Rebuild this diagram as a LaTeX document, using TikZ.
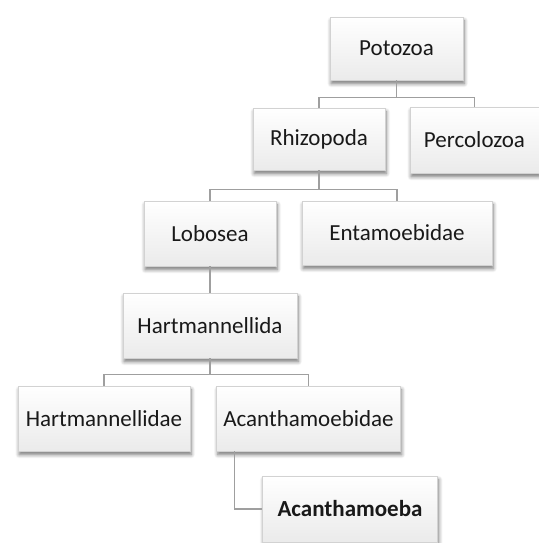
\documentclass[tikz,border=0pt]{standalone}
\usepackage{fontspec}
\setmainfont{Carlito}
\usepackage{tikz}
\usetikzlibrary{shadows.blur,positioning,calc}

\begin{document}
\begin{tikzpicture}[
    x=0.5pt, y=-0.5pt,
    taxon/.style={rectangle, draw=gray!35, top color=white, bottom color=gray!16, align=center, minimum height=32.5pt, font=\fontsize{11.5}{13}\selectfont, text=black!90, blur shadow={shadow xshift=0.6pt, shadow yshift=-1.8pt, shadow blur steps=6, shadow opacity=55}},
    link/.style={draw=gray!75, line width=0.6pt}
]
    \useasboundingbox (0,0) rectangle (539,543);

    \node [taxon, minimum width=66.5pt, minimum height=31.5pt] (potozoa) at (396.5,48.5) {Potozoa};
    \node [taxon, minimum width=66pt, minimum height=31pt] (rhizopoda) at (319,139) {Rhizopoda};
    \node [taxon, minimum width=64.5pt, minimum height=33pt] (percolozoa) at (474.5,140) {Percolozoa};
    \node [taxon, minimum width=66pt] (lobosea) at (210,233.5) {Lobosea};
    \node [taxon, minimum width=95pt, minimum height=32pt] (entamoebidae) at (397,233) {Entamoebidae};
    \node [taxon, minimum width=87pt] (hartmannellida) at (210,325.5) {Hartmannellida};
    \node [taxon, minimum width=86pt] (hartmannellidae) at (104,418.5) {Hartmannellidae};
    \node [taxon, minimum width=91.5pt] (acanthamoebidae) at (308.5,418.5) {Acanthamoebidae};
    \node [taxon, minimum width=87.5pt, minimum height=33pt] (acanthamoeba) at (350,509) {\textbf{Acanthamoeba}};

    % tree links
    \draw [link] (potozoa.south) -- ++(0,17) -| (rhizopoda.north);
    \draw [link] (potozoa.south) -- ++(0,17) -| (percolozoa.north);
    \draw [link] (rhizopoda.south) -- ++(0,19) -| (lobosea.north);
    \draw [link] (rhizopoda.south) -- ++(0,19) -| (entamoebidae.north);
    \draw [link] (lobosea.south) -- (hartmannellida.north);
    \draw [link] (hartmannellida.south) -- ++(0,16) -| (hartmannellidae.north);
    \draw [link] (hartmannellida.south) -- ++(0,16) -| (acanthamoebidae.north);
    \draw [link] ([xshift=9pt]acanthamoebidae.south west) |- (acanthamoeba.west);
\end{tikzpicture}
\end{document}
